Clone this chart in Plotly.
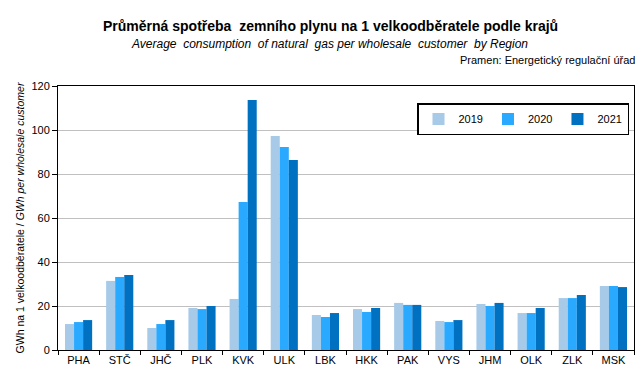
import plotly.graph_objects as go

regions = ["PHA", "STČ", "JHČ", "PLK", "KVK", "ULK", "LBK", "HKK", "PAK", "VYS", "JHM", "OLK", "ZLK", "MSK"]
v2019 = [11.8, 31.4, 10.0, 19.1, 23.2, 97.3, 15.9, 18.6, 21.4, 13.2, 20.9, 16.8, 23.6, 29.1]
v2020 = [12.7, 33.2, 11.8, 18.6, 67.3, 92.3, 15.0, 17.3, 20.5, 12.7, 20.0, 16.8, 23.6, 29.1]
v2021 = [13.6, 34.1, 13.6, 20.0, 113.6, 86.4, 16.8, 19.1, 20.5, 13.6, 21.4, 19.1, 25.0, 28.6]
years = ["2019", "2020", "2021"]
colors = ["#A6CAE8", "#29A9FF", "#0070C0"]

fig = go.Figure()
for name, vals, col in zip(years, [v2019, v2020, v2021], colors):
    fig.add_trace(go.Bar(x=regions, y=vals, name=name, marker_color=col, marker_line_width=0))

W, H = 643, 372
L, R, T, B = 50, 17, 78, 30
plot_w = W - L - R
plot_h = H - T - B

def px_x(x):
    return (x - L) / plot_w

def px_y(y):
    return (H - B - y) / plot_h

font = "Liberation Sans, Arial, sans-serif"
fig.update_layout(
    width=W, height=H,
    margin=dict(l=L, r=R, t=T, b=B, autoexpand=False),
    paper_bgcolor="white", plot_bgcolor="white",
    font=dict(family=font, size=11, color="black"),
    barmode="group", bargap=0.34, bargroupgap=0,
    showlegend=True,
    legend=dict(orientation="h", x=px_x(621), y=px_y(95), xanchor="right", yanchor="top",
                bordercolor="black", borderwidth=1.5, font=dict(size=11),
                itemwidth=30, tracegroupgap=0, bgcolor="white"),
    xaxis=dict(showline=True, linecolor="black", linewidth=1, mirror=True,
               ticks="outside", tickson="boundaries", ticklen=4, tickcolor="black",
               tickfont=dict(size=11)),
    yaxis=dict(range=[0, 120], dtick=20, showgrid=True, gridcolor="#C0C0C0", gridwidth=1,
               showline=True, linecolor="black", linewidth=1, mirror=True,
               ticks="outside", ticklen=5, tickcolor="black", tickfont=dict(size=11),
               title=dict(text="GWh na 1 velkoodběratele / <i>GWh per wholesale customer</i>",
                          font=dict(size=10.5), standoff=4)),
    annotations=[
        dict(text="<b>Průměrná spotřeba  zemního plynu na 1 velkoodběratele podle krajů</b>",
             x=px_x(322), xref="paper", y=px_y(18), yref="paper", yanchor="middle",
             showarrow=False, font=dict(size=14)),
        dict(text="<i>Average  consumption  of natural  gas per wholesale  customer  by Region</i>",
             x=px_x(321), xref="paper", y=px_y(36), yref="paper", yanchor="middle",
             showarrow=False, font=dict(size=12)),
        dict(text="Pramen: Energetický regulační úřad",
             x=px_x(629), xref="paper", xanchor="right", y=px_y(52), yref="paper",
             yanchor="middle", showarrow=False, font=dict(size=11)),
    ],
)

fig.write_html("out.html")
